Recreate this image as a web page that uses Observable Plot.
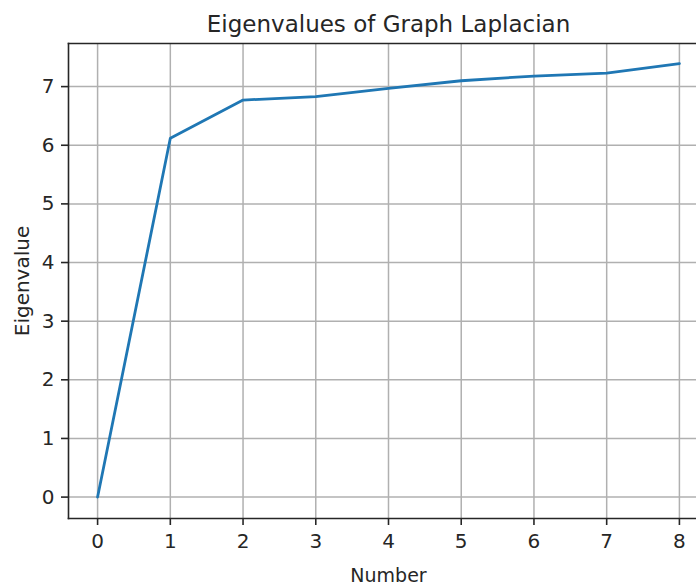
<!DOCTYPE html>
<html>
<head>
<meta charset="utf-8">
<script src="https://cdn.jsdelivr.net/npm/d3@7"></script>
<script src="https://cdn.jsdelivr.net/npm/@observablehq/plot@0.6"></script>
<style>
  html, body { margin: 0; padding: 0; background: #fff; }
  #chart { width: 696px; height: 587px; overflow: hidden; }
  #chart svg { font-family: "DejaVu Sans", sans-serif; }
</style>
</head>
<body>
<div id="chart"></div>
<script>
// Laplacian eigenvalues, in ascending order
const numbers = [0, 1, 2, 3, 4, 5, 6, 7, 8];
const eigenvalues = [0, 6.12, 6.77, 6.83, 6.97, 7.10, 7.18, 7.23, 7.39];

const xTicks = [0, 1, 2, 3, 4, 5, 6, 7, 8];
const yTicks = [0, 1, 2, 3, 4, 5, 6, 7];

const titleText = "Eigenvalues of Graph Laplacian";
const xLabel = "Number";
const yLabel = "Eigenvalue";

const data = numbers.map((n, i) => ({n, v: eigenvalues[i]}));

const gridColor = "#b0b0b0";
const spineColor = "#262626";
// horizontal centre of the full axes box (its right side runs past the page)
const xCenter = 4.0;

const chart = Plot.plot({
  width: 696,
  height: 587,
  marginLeft: 68,
  marginRight: 0,
  marginTop: 43,
  marginBottom: 69,
  style: {fontFamily: "DejaVu Sans, sans-serif", background: "#fff", color: "#262626"},
  x: {domain: [-0.4, 8.235], ticks: xTicks},
  y: {domain: [-0.365, 7.735], ticks: yTicks},
  marks: [
    Plot.gridX(xTicks, {stroke: gridColor, strokeOpacity: 1, strokeWidth: 1.5}),
    Plot.gridY(yTicks, {stroke: gridColor, strokeOpacity: 1, strokeWidth: 1.5}),
    Plot.frame({anchor: "left", stroke: spineColor, strokeWidth: 1.6}),
    Plot.frame({anchor: "bottom", stroke: spineColor, strokeWidth: 1.6}),
    Plot.frame({anchor: "top", stroke: spineColor, strokeWidth: 1.6}),
    Plot.axisX(xTicks, {
      tickSize: 7, tickPadding: 8, fontSize: 20, stroke: spineColor, strokeWidth: 1.6,
      tickFormat: d3.format("d"), label: null
    }),
    Plot.axisY(yTicks, {
      tickSize: 7, tickPadding: 7, fontSize: 20, stroke: spineColor, strokeWidth: 1.6,
      tickFormat: d3.format("d"),
      label: yLabel, labelAnchor: "center", labelArrow: "none", labelOffset: 54
    }),
    Plot.line(data, {x: "n", y: "v", stroke: "#1f77b4", strokeWidth: 2.8, strokeLinejoin: "round"}),
    Plot.text([xLabel], {
      frameAnchor: "bottom", x: () => xCenter, lineAnchor: "top", dy: 50,
      fontSize: 19, fill: "#262626"
    }),
    Plot.text([titleText], {
      frameAnchor: "top", x: () => xCenter, lineAnchor: "bottom", dy: -12,
      fontSize: 23, fill: "#262626"
    })
  ]
});

document.getElementById("chart").appendChild(chart);
</script>
</body>
</html>
